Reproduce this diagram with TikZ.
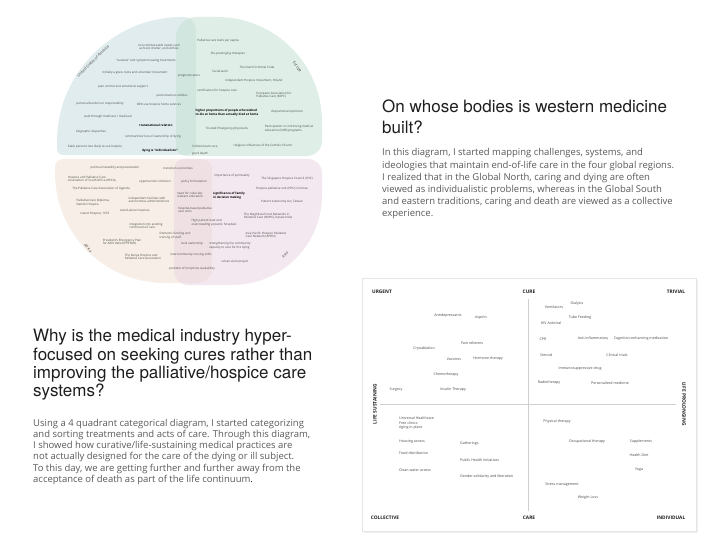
\documentclass[tikz,border=0pt]{standalone}
\usepackage{fontspec}
\setmainfont{Open Sans}
\newfontfamily\helv{TeX Gyre Heros}
\definecolor{usa}{HTML}{C5DBE1}
\definecolor{eur}{HTML}{C1E1D1}
\definecolor{afr}{HTML}{F1E1D1}
\definecolor{asi}{HTML}{E9D3E1}
\definecolor{ink}{HTML}{1E1E1E}
\definecolor{bodyc}{HTML}{5A5A5A}
\definecolor{tinyc}{HTML}{4A4A4A}
\definecolor{rulec}{HTML}{CFCFCF}
\begin{document}
\begin{tikzpicture}[x=1pt,y=1pt,
 cl/.style={font=\fontsize{3}{3.7}\selectfont, text=tinyc, align=center, inner sep=0pt},
 clb/.style={cl, font=\fontsize{3}{3.7}\selectfont\bfseries, text=black},
 regn/.style={font=\fontsize{3.8}{4.5}\selectfont, text=tinyc, inner sep=0pt},
 qi/.style={font=\fontsize{3.6}{4.4}\selectfont, text=tinyc, inner sep=0pt},
 ql/.style={font=\fontsize{4.8}{5.5}\selectfont\bfseries, text=ink, inner sep=0pt},
 ttl/.style={font=\helv\fontsize{17}{20}\selectfont, text=ink, anchor=base west, inner sep=0pt},
 bod/.style={font=\fontsize{9.5}{12}\selectfont, text=bodyc, anchor=base west, inner sep=0pt},
 area/.style={fill opacity=0.5}
]
\useasboundingbox (0,0) rectangle (720,-556);
\fill[white] (0,0) rectangle (720,-556);

% ---------- circle regions (rounded quarter shapes) ----------
% USA: L=57 R=196 T=-17 B=-155
\fill[usa, area] (57,-149) -- (57,-142) arc[start angle=180,end angle=90,radius=125]
  -- (184,-17) arc[start angle=90,end angle=0,radius=12]
  -- (196,-145) arc[start angle=0,end angle=-90,radius=10]
  -- (63,-155) arc[start angle=-90,end angle=-180,radius=6] -- cycle;
% Europe: L=176 R=322 T=-17 B=-156
\fill[eur, area] (176,-146) -- (176,-37) arc[start angle=180,end angle=90,radius=20]
  -- (217,-17) arc[start angle=90,end angle=0,radius=105]
  -- (322,-141) arc[start angle=0,end angle=-90,radius=15]
  -- (186,-156) arc[start angle=-90,end angle=-180,radius=10] -- cycle;
% Africa: L=55 R=212 T=-159 B=-283
\fill[afr, area] (55,-173) -- (55,-167) arc[start angle=180,end angle=90,radius=8]
  -- (202,-159) arc[start angle=90,end angle=0,radius=10]
  -- (212,-269) arc[start angle=0,end angle=-90,radius=14]
  -- (165,-283) arc[start angle=-90,end angle=-180,radius=110] -- cycle;
% Asia: L=174 R=322 T=-159 B=-285
\fill[asi, area] (174,-271) -- (174,-169) arc[start angle=180,end angle=90,radius=10]
  -- (308,-159) arc[start angle=90,end angle=0,radius=14]
  -- (322,-195) arc[start angle=0,end angle=-90,radius=90]
  -- (188,-285) arc[start angle=-90,end angle=-180,radius=14] -- cycle;

% region names
\node[regn, rotate=45] (nUSA) at (93,-61) {United States of America};
\node[regn, rotate=-55] (nEUR) at (297,-67) {Europe};
\node[regn, rotate=-50] (nAFR) at (88,-248) {Africa};
\node[regn, rotate=50] (nASI) at (285,-255) {Asia};

% USA
\node[cl] (u1) at (159,-47) {non-reimbursable needs such\\as food, shelter, and utilities};
\node[cl] (u2) at (146,-61) {``curative'' and symptom easing treatments};
\node[cl] (u3) at (135,-73) {Initially a grass roots and volunteer movement};
\node[cl] (u4) at (189,-76) {prognosticators};
\node[cl] (u5) at (123,-87) {pain control and emotional support};
\node[cl] (u6) at (172,-96) {postindustrial civilities};
\node[cl] (u7) at (100,-104) {personal burden on responsibility};
\node[cl] (u8) at (159,-105) {90\% use hospice home services};
\node[cl] (u9) at (108,-117) {paid through medicare / medicaid};
\node[clb] (u10) at (156,-125) {transnational relation};
\node[cl] (u11) at (91,-132) {biographic disparities};
\node[cl] (u12) at (153,-137) {communities' loss of ownership of dying};
\node[cl] (u13) at (95,-147) {black persons less likely to use hospice};
\node[clb] (u14) at (160,-151) {dying is ``individualistic''};

% Europe
\node[cl] (e1) at (218,-41) {Palliative care beds per capita};
\node[cl] (e2) at (228,-54) {life-prolonging therapies};
\node[cl] (e3) at (220,-71) {Social work};
\node[cl] (e4) at (257,-67) {The Dutch Criminal Code};
\node[cl] (e5) at (254,-81) {Independent Hospice movement, Poland};
\node[cl] (e6) at (217,-91) {certification for hospice care};
\node[cl, align=left] (e7) at (274,-95) {European Association for\\Palliative Care (EAPC)};
\node[clb, align=left] (e8) at (227,-113) {higher proportions of people who wished\\to die at home than actually died at home};
\node[cl] (e9) at (287,-112) {dispositional optimism};
\node[cl] (e10) at (227,-129) {Trusted Emergency physicians};
\node[cl, align=left] (e11) at (289,-129) {Participation in continuing medical\\education (CME) programs};
\node[cl] (e12) at (205,-146) {holistic/team care};
\node[cl] (e13) at (263,-146) {religious influences of the Catholic Church};
\node[cl] (e14) at (200,-154) {good death};

% Africa
\node[cl] (a1) at (115,-168) {political instability and polarization};
\node[cl] (a2) at (178,-168) {transition economies};
\node[cl, align=left] (a3) at (92,-179) {Hospice and Palliative Care\\Association of South Africa (HPCA)};
\node[cl] (a4) at (155,-182) {opportunistic infection};
\node[cl] (a5) at (194,-182) {policy formulation};
\node[cl] (a6) at (101,-189) {The Palliative Care Association of Uganda};
\node[cl, align=left] (a7) at (190,-195) {need for culturally\\relevant education};
\node[cl, align=left] (a8) at (93,-203) {Palliative Care Diploma,\\Nairobi Hospice};
\node[cl, align=left] (a9) at (149,-200) {independent facilities with\\autonomous administrations};
\node[cl] (a10) at (95,-214) {Island Hospice, 1979};
\node[cl] (a11) at (135,-211) {stand-alone hospices};
\node[cl, align=left] (a12) at (195,-210) {hospital-based palliative\\care units};
\node[cl, align=left] (a13) at (146,-226) {integration into existing\\continuum of care};
\node[cl, align=left] (a14) at (214,-223) {High patient load and\\overcrowding at public hospitals};
\node[cl, align=left] (a15) at (175,-236) {Domestic funding and\\training of staff};
\node[cl, align=left] (a16) at (122,-242) {President's Emergency Plan\\for AIDS Relief (PEPFAR)};
\node[cl] (a17) at (192,-244) {local ownership};
\node[cl, align=left] (a18) at (143,-257) {The Kenya Hospice and\\Palliative Care Association};
\node[cl] (a19) at (191,-255) {intercommunity nursing skills};
\node[cl] (a20) at (192,-269) {problem of morphine availability};

% Asia
\node[cl] (s1) at (232,-176) {importance of spirituality};
\node[cl] (s2) at (287,-179) {The Singapore Hospice Council (SHC)};
\node[cl] (s3) at (282,-189) {Hospice palliative unit (HPU) in Korea};
\node[clb, align=left] (s4) at (229,-196) {significance of family\\in decision making};
\node[cl] (s5) at (282,-202) {Patient Autonomy Act, Taiwan};
\node[cl, align=left] (s6) at (268,-216) {The Neighbourhood Networks in\\Palliative Care (NNPC), Kerala India};
\node[cl, align=left] (s7) at (266,-235) {Asia Pacific Hospice Palliative\\Care Network (APHN)};
\node[cl, align=left] (s8) at (230,-246) {strengthening the community\\capacity to care for the dying};
\node[cl] (s9) at (235,-262) {urban-slum project};

% ---------- top-right text ----------
\node[ttl] (t1) at (382,-112.7) {On whose bodies is western medicine};
\node[ttl] (t2) at (382,-134) {built?};
\node[bod] (b1) at (382,-156) {In this diagram, I started mapping challenges, systems, and};
\node[bod] (b2) at (382,-168.1) {ideologies that maintain end-of-life care in the four global regions.};
\node[bod] (b3) at (382,-180.2) {I realized that in the Global North, caring and dying are often};
\node[bod] (b4) at (382,-192.3) {viewed as individualistic problems, whereas in the Global South};
\node[bod] (b5) at (382,-204.4) {and eastern traditions, caring and death are viewed as a collective};
\node[bod] (b6) at (382,-216.5) {experience.};

% ---------- bottom-left text ----------
\node[ttl] (w1) at (33,-341.7) {Why is the medical industry hyper-};
\node[ttl] (w2) at (33,-360) {focused on seeking cures rather than};
\node[ttl] (w3) at (33,-378.3) {improving the palliative/hospice care};
\node[ttl] (w4) at (33,-396.7) {systems?};
\node[bod] (c1) at (33,-426) {Using a 4 quadrant categorical diagram, I started categorizing};
\node[bod] (c2) at (33,-437.3) {and sorting treatments and acts of care. Through this diagram,};
\node[bod] (c3) at (33,-448.6) {I showed how curative/life-sustaining medical practices are};
\node[bod] (c4) at (33,-459.9) {not actually designed for the care of the dying or ill subject.};
\node[bod] (c5) at (33,-471.2) {To this day, we are getting further and further away from the};
\node[bod] (c6) at (33,-482.5) {acceptance of death as part of the life continuum\textcolor{ink}{.}};

% ---------- quadrant card ----------
\fill[black!6] (363.5,-279.5) rectangle (697.5,-532.5);
\filldraw[fill=white, draw=black!10, line width=0.6pt] (362,-278) rectangle (696,-531);
\coordinate (hL) at (380,-404);
\coordinate (hR) at (676,-404);
\coordinate (vT) at (528,-299);
\coordinate (vB) at (528,-511);
\draw[rulec, line width=0.9pt] (hL) -- (hR);
\draw[rulec, line width=0.9pt] (vT) -- (vB);

\node[ql] (lU) at (382,-292) {URGENT};
\node[ql] (lC) at (529,-292) {CURE};
\node[ql] (lT) at (676,-292) {TRIVIAL};
\node[ql] (lCo) at (385,-518) {COLLECTIVE};
\node[ql] (lCa) at (529,-518) {CARE};
\node[ql] (lI) at (671,-518) {INDIVIDUAL};
\node[ql, rotate=90] (lS) at (375,-404) {LIFE SUSTAINING};
\node[ql, rotate=-90] (lP) at (684,-404) {LIFE PROLONGING};

% top-left quadrant
\node[qi] (q1) at (448,-316) {Antidepressants};
\node[qi] (q2) at (481,-318) {Aspirin};
\node[qi] (q3) at (472,-343) {Pain relievers};
\node[qi] (q4) at (424,-349) {Cryoablation};
\node[qi] (q5) at (454,-359) {Vaccines};
\node[qi] (q6) at (488,-359) {Hormone therapy};
\node[qi] (q7) at (446,-375) {Chemotherapy};
\node[qi] (q8) at (396,-390) {Surgery};
\node[qi] (q9) at (453,-390) {Insulin Therapy};

% top-right quadrant
\node[qi] (r1) at (554,-307) {Ventilators};
\node[qi] (r2) at (577,-304) {Dialysis};
\node[qi] (r3) at (580,-318) {Tube Feeding};
\node[qi] (r4) at (551,-323) {HIV Antiviral};
\node[qi] (r5) at (543,-339) {CPR};
\node[qi] (r6) at (593,-339) {Anti-inflammatory};
\node[qi] (r7) at (641,-339) {Cognition-enhancing medication};
\node[qi] (r8) at (546,-355) {Steroid};
\node[qi] (r9) at (617,-355) {Clinical trials};
\node[qi] (r10) at (580,-369) {Immunosuppressive drug};
\node[qi] (r11) at (549,-383) {Radiotherapy};
\node[qi] (r12) at (610,-383) {Personalized medicine};

% bottom-left quadrant
\node[qi, anchor=north west, align=left] (p1) at (399,-417) {Universal Healthcare\\Free clinics\\Aging in place};
\node[qi, anchor=west] (p2) at (399,-442) {Housing access};
\node[qi, anchor=west] (p3) at (460,-444) {Gatherings};
\node[qi, anchor=west] (p4) at (399,-453) {Food distribution};
\node[qi, anchor=west] (p5) at (460,-460) {Public Health initiatives};
\node[qi, anchor=west] (p6) at (399,-470) {Clean water access};
\node[qi, anchor=west] (p7) at (460,-477) {Gender solidarity and liberation};

% bottom-right quadrant
\node[qi] (m1) at (557,-422) {Physical therapy};
\node[qi] (m2) at (587,-442) {Occupational therapy};
\node[qi] (m3) at (641,-442) {Supplements};
\node[qi] (m4) at (639,-455) {Health Diet};
\node[qi] (m5) at (639,-470) {Yoga};
\node[qi] (m6) at (562,-485) {Stress management};
\node[qi] (m7) at (588,-498) {Weight Loss};
\end{tikzpicture}
\end{document}
